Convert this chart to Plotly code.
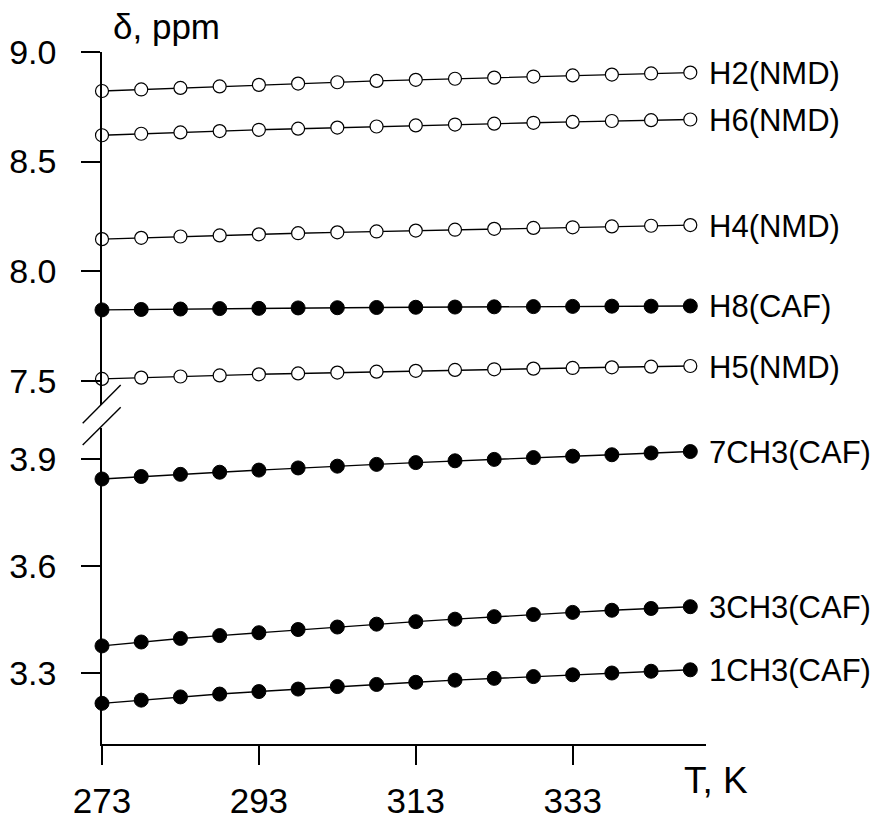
import plotly.graph_objects as go

# ---- data ----
T = [273, 278, 283, 288, 293, 298, 303, 308, 313, 318, 323, 328, 333, 338, 343, 348]

H2_NMD = [8.822, 8.829, 8.836, 8.843, 8.850, 8.856, 8.862, 8.868, 8.873, 8.878, 8.883, 8.888, 8.893, 8.897, 8.902, 8.906]
H6_NMD = [8.620, 8.627, 8.633, 8.639, 8.645, 8.650, 8.655, 8.660, 8.665, 8.669, 8.673, 8.677, 8.681, 8.685, 8.689, 8.692]
H4_NMD = [8.146, 8.152, 8.158, 8.163, 8.168, 8.173, 8.177, 8.181, 8.185, 8.189, 8.193, 8.197, 8.200, 8.204, 8.207, 8.210]
H8_CAF = [7.823, 7.825, 7.827, 7.829, 7.830, 7.832, 7.833, 7.834, 7.835, 7.836, 7.837, 7.838, 7.839, 7.840, 7.840, 7.841]
H5_NMD = [7.508, 7.514, 7.519, 7.524, 7.529, 7.533, 7.537, 7.541, 7.545, 7.549, 7.552, 7.555, 7.558, 7.561, 7.564, 7.567]
CH3_7_CAF = [3.843, 3.850, 3.856, 3.862, 3.868, 3.874, 3.879, 3.884, 3.889, 3.894, 3.898, 3.903, 3.907, 3.911, 3.916, 3.920]
CH3_3_CAF = [3.375, 3.386, 3.396, 3.404, 3.412, 3.421, 3.428, 3.436, 3.443, 3.450, 3.457, 3.463, 3.469, 3.475, 3.480, 3.485]
CH3_1_CAF = [3.214, 3.223, 3.232, 3.240, 3.247, 3.254, 3.261, 3.267, 3.273, 3.279, 3.284, 3.289, 3.294, 3.299, 3.304, 3.308]

labels = ["H2(NMD)", "H6(NMD)", "H4(NMD)", "H8(CAF)", "H5(NMD)",
          "7CH3(CAF)", "3CH3(CAF)", "1CH3(CAF)"]
series = [H2_NMD, H6_NMD, H4_NMD, H8_CAF, H5_NMD, CH3_7_CAF, CH3_3_CAF, CH3_1_CAF]
filled = [False, False, False, True, False, True, True, True]
upper = [True, True, True, True, True, False, False, False]

x_ticks = [273, 293, 313, 333]
y_upper_ticks = [7.5, 8.0, 8.5, 9.0]
y_lower_ticks = [3.3, 3.6, 3.9]

FONT = "Arial, Liberation Sans, sans-serif"

# page has an 8px body margin: the figure is drawn 8px in from the top-left
OFF = 8
W, H = 881 - OFF, 833 - OFF
L, TOP = 102 - OFF, 52 - OFF
PW, PH = 604, 692
X_AXIS_Y = TOP + PH  # figure px of the x axis


def px_to_paper(px, py):
    # px, py are page pixels
    return (px - OFF - L) / PW, (X_AXIS_Y - (py - OFF)) / PH


fig = go.Figure()
annotations = []
for name, vals, fill, up in zip(labels, series, filled, upper):
    yax = "y2" if up else "y"
    if fill:
        marker = dict(symbol="circle", size=14, color="black",
                      line=dict(color="black", width=1))
    else:
        marker = dict(symbol="circle", size=13, color="white",
                      line=dict(color="black", width=1.2))
    fig.add_trace(go.Scatter(
        x=T, y=vals, mode="lines+markers", name=name, yaxis=yax,
        line=dict(color="black", width=1.4), marker=marker,
        cliponaxis=False, showlegend=False))
    annotations.append(dict(
        x=T[-1], y=vals[-1], xref="x", yref=yax, text=name,
        showarrow=False, xanchor="left", yanchor="middle",
        xshift=17, yshift=-1, font=dict(family=FONT, size=31, color="black")))

# axis titles as annotations
ax_, ay_ = px_to_paper(111, 27)
annotations.append(dict(x=ax_, y=ay_, xref="paper", yref="paper",
                        text="δ, ppm", showarrow=False, xanchor="left", yanchor="middle",
                        font=dict(family=FONT, size=35, color="black")))
tx_, ty_ = px_to_paper(682, 780)
annotations.append(dict(x=tx_, y=ty_, xref="paper", yref="paper",
                        text="T, K", showarrow=False, xanchor="left", yanchor="middle",
                        font=dict(family=FONT, size=37, color="black")))

# axis break marks (page pixel positions)
shapes = []
for (x0, y0, x1, y1) in [(82.7, 423.3, 120.7, 385.0), (82.7, 445.0, 120.7, 407.3)]:
    a0, b0 = px_to_paper(x0, y0)
    a1, b1 = px_to_paper(x1, y1)
    shapes.append(dict(type="line", xref="paper", yref="paper",
                       x0=a0, y0=b0, x1=a1, y1=b1,
                       line=dict(color="black", width=1.4)))

axis_common = dict(showgrid=False, zeroline=False, showline=True,
                   linecolor="black", linewidth=1.5, ticks="outside",
                   ticklen=19, tickwidth=1.5, tickcolor="black", automargin=False)

lower_top = px_to_paper(0, 428)[1]
upper_bottom = px_to_paper(0, 405)[1]

fig.update_layout(
    width=W, height=H,
    margin=dict(l=L, r=W - L - PW, t=TOP, b=H - TOP - PH, autoexpand=False),
    paper_bgcolor="white", plot_bgcolor="white",
    font=dict(family=FONT, color="black"),
    xaxis=dict(range=[273, 350], tickvals=x_ticks, ticktext=[str(v) for v in x_ticks],
               anchor="y", tickfont=dict(size=35), ticklabelstandoff=6, **axis_common),
    yaxis=dict(domain=[0, lower_top], range=[3.1, 3.986],
               tickvals=y_lower_ticks, ticktext=["%.1f" % v for v in y_lower_ticks],
               anchor="x", tickfont=dict(size=34), ticklabelstandoff=18, **axis_common),
    yaxis2=dict(domain=[upper_bottom, 1], range=[7.389, 9.0],
                tickvals=y_upper_ticks, ticktext=["%.1f" % v for v in y_upper_ticks],
                anchor="x", tickfont=dict(size=34), ticklabelstandoff=18, **axis_common),
    annotations=annotations,
    shapes=shapes,
)

fig.write_html("out.html")
